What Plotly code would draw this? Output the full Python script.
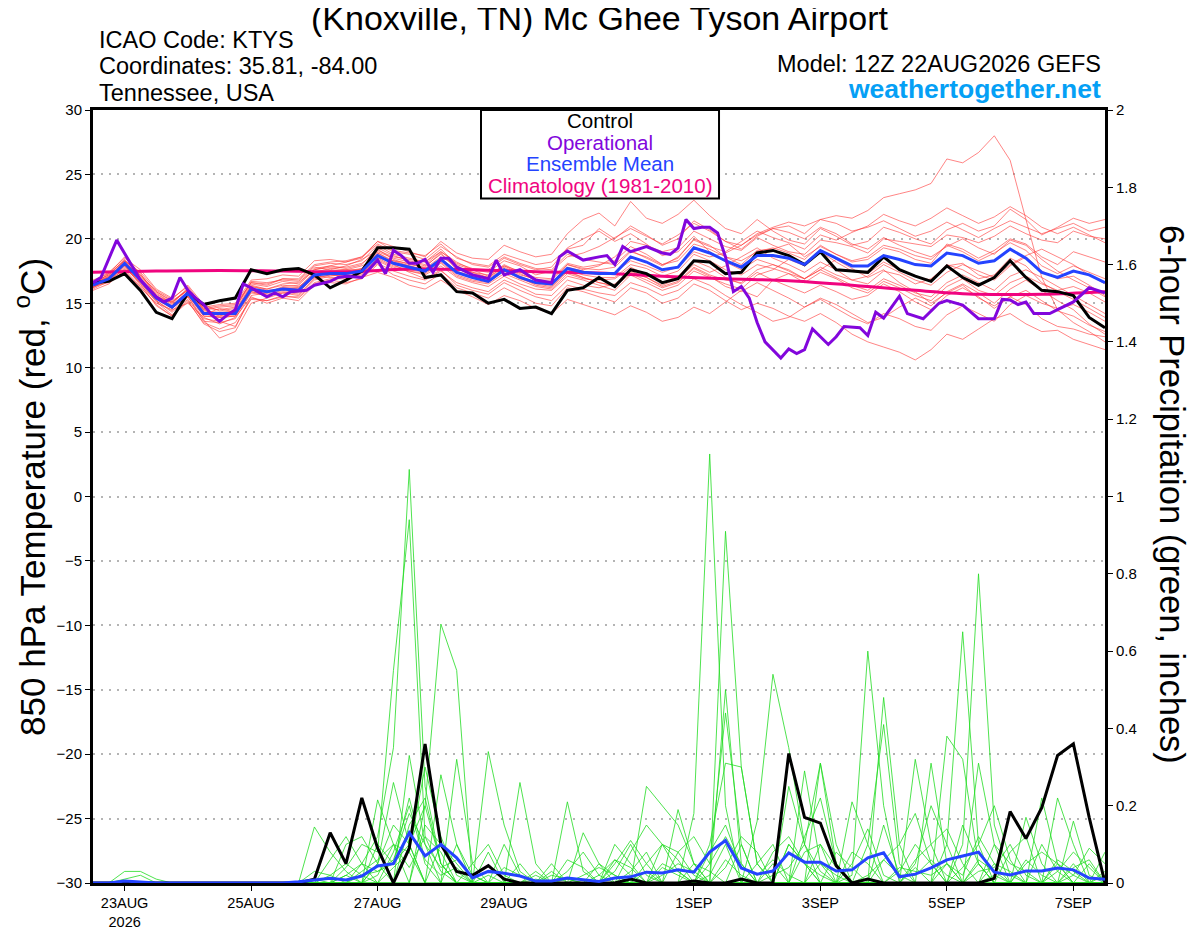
import plotly.graph_objects as go
import pandas as pd

# GEFS 12Z 22AUG2026, 6-hourly steps out to 384h (65 points)
run_start = "2026-08-22 12:00"
n_steps = 65

# 850 hPa temperature, control run (deg C)
control_temp = [16.6, 16.7, 17.3, 16.0, 14.3, 13.8, 15.8, 14.9, 15.2, 15.4, 17.6, 17.3, 17.6,
                17.7, 17.2, 16.2, 16.8, 17.5, 19.3, 19.3, 19.2, 17.0, 17.2, 15.9, 15.8, 15.0,
                15.3, 14.6, 14.7, 14.2, 16.0, 16.2, 17.0, 16.3, 17.6, 17.3, 16.6, 16.9, 18.3,
                18.2, 17.3, 17.4, 18.9, 19.1, 18.7, 18.0, 19.0, 17.6, 17.5, 17.4, 18.6, 17.6,
                17.1, 16.7, 17.9, 17.0, 16.4, 17.0, 18.3, 17.0, 16.0, 15.9, 15.6, 13.9, 13.1]

# ensemble mean temperature
mean_temp = [16.4, 16.9, 18.1, 16.8, 15.4, 14.7, 15.8, 14.2, 14.2, 14.2, 16.1, 15.9, 16.1,
             16.0, 17.2, 17.3, 17.3, 17.5, 18.7, 18.1, 17.8, 17.5, 18.4, 17.4, 17.0, 16.7,
             17.6, 17.0, 16.6, 16.5, 17.7, 17.4, 17.3, 17.3, 18.6, 18.2, 17.6, 17.8, 19.3,
             18.9, 18.3, 17.8, 18.7, 18.7, 18.5, 18.0, 19.1, 18.5, 17.9, 17.9, 18.7, 18.4,
             18.0, 17.9, 18.9, 18.7, 18.1, 18.3, 19.2, 18.5, 17.4, 17.0, 17.5, 17.2, 16.6]

# operational run (3-hourly where visible)
op_hours = [0, 3, 9, 12, 18, 24, 27, 30, 33, 36, 39, 42, 45, 48, 51, 54, 57, 60, 66, 69,
            72, 75, 81, 84, 90, 93, 96, 102, 108, 111, 114, 117, 120, 123, 126, 129, 132, 135, 138, 144,
            150, 153, 156, 162, 168, 174, 177, 180, 186, 192, 195, 198, 201, 204, 210, 216, 219, 222, 225, 228,
            231, 234, 237, 240, 243, 246, 249, 252, 255, 261, 264, 267, 270, 273, 279, 282, 285, 291, 294, 297,
            300, 306, 309, 315, 321, 324, 330, 336, 342, 345, 348, 351, 354, 357, 363, 366, 372, 378, 384]
op_temp = [16.6, 17.0, 19.9, 18.9, 16.8, 15.5, 15.1, 15.4, 17.0, 16.0, 15.4, 14.9, 14.1, 13.6, 14.1, 14.5, 16.5, 16.2, 15.5, 15.8,
           15.5, 15.9, 16.0, 16.4, 16.7, 17.0, 17.1, 17.0, 18.35, 17.3, 19.1, 18.7, 18.1, 18.1, 18.4, 17.4, 18.5, 18.5, 17.8, 17.2,
           16.9, 18.35, 17.2, 17.6, 16.8, 16.6, 18.6, 19.05, 18.35, 18.6, 18.7, 18.0, 19.4, 19.0, 19.4, 18.9, 18.8, 19.3, 21.5, 20.8,
           20.9, 20.9, 20.45, 18.6, 15.9, 16.3, 15.4, 13.5, 12.0, 10.75, 11.45, 11.1, 11.4, 13.0, 11.8, 12.4, 13.2, 13.1, 12.5, 14.3,
           13.85, 15.55, 14.2, 13.8, 15.0, 15.2, 14.85, 13.8, 13.8, 15.3, 15.25, 14.9, 15.1, 14.2, 14.2, 14.5, 15.1, 16.2, 15.8]

# climatology (1981-2010), daily
clim_temp = [17.4, 17.5, 17.55, 17.5, 17.45, 17.65, 17.6, 17.45, 17.35, 17.1, 16.9, 16.75, 16.4,
             16.0, 15.7, 15.7, 15.9]

# ensemble member temperatures
member_temp = [
    [16.6, 17.2, 18.4, 17.1, 15.8, 15.0, 16.2, 14.6, 14.8, 14.9, 16.6, 16.4, 16.9,
     16.8, 17.9, 18.1, 18.0, 18.3, 19.5, 18.8, 18.5, 18.2, 19.2, 18.0, 17.6, 17.4,
     18.3, 17.9, 17.2, 17.5, 18.6, 18.9, 19.4, 20.1, 20.8, 20.2, 19.6, 20.3, 21.2,
     20.6, 19.8, 19.5, 20.4, 20.9, 21.3, 21.0, 21.5, 21.8, 21.6, 22.2, 23.2, 23.5,
     23.8, 24.3, 26.2, 25.9, 26.7, 28.0, 26.1, 21.5, 17.0, 14.5, 13.5, 12.8, 12.0],
    [16.2, 16.8, 17.8, 16.6, 15.1, 14.1, 15.2, 13.4, 12.8, 13.1, 15.6, 15.8, 16.3,
     16.4, 17.6, 17.9, 18.2, 18.6, 19.8, 19.4, 19.0, 18.6, 19.8, 18.9, 18.5, 18.4,
     19.5, 19.0, 18.6, 18.8, 20.4, 21.5, 22.0, 21.0, 22.9, 21.6, 21.2, 21.9, 23.0,
     21.8, 20.8, 20.4, 21.5, 20.6, 19.9, 19.6, 20.8, 20.2, 19.5, 19.8, 20.9, 20.5,
     20.0, 19.6, 20.7, 21.2, 20.6, 21.0, 22.3, 21.5, 20.3, 20.9, 21.6, 21.2, 21.5],
    [16.5, 17.1, 18.0, 16.5, 14.8, 14.0, 15.5, 13.8, 13.6, 13.2, 15.4, 15.2, 15.6,
     15.4, 16.5, 16.8, 16.6, 16.9, 18.0, 17.2, 16.8, 16.5, 17.3, 16.2, 15.8, 15.4,
     16.2, 15.6, 15.0, 14.8, 16.2, 15.9, 15.5, 15.1, 16.2, 15.8, 15.0, 15.4, 16.5,
     16.0, 15.2, 14.5, 15.0, 14.6, 14.0, 13.6, 14.2, 13.5, 12.6, 12.0, 11.6, 11.2,
     10.6, 11.4, 12.6, 12.2, 13.0, 13.8, 14.2, 13.4, 12.8, 12.9, 12.2, 11.8, 11.4],
    [16.3, 16.6, 17.5, 16.2, 15.0, 14.5, 15.0, 13.9, 13.4, 13.9, 15.5, 15.0, 15.4,
     15.2, 16.4, 16.6, 16.5, 17.0, 17.4, 17.0, 16.4, 16.1, 16.8, 16.0, 15.5, 14.9,
     15.6, 15.2, 14.6, 14.2, 15.3, 14.9, 14.5, 14.1, 14.8, 14.3, 13.6, 13.9, 14.7,
     14.2, 15.1, 16.0, 15.5, 16.8, 17.3, 16.9, 17.6, 18.4, 17.7, 17.0, 17.6, 16.6,
     15.9, 15.0, 15.8, 16.4, 15.4, 14.8, 15.5, 14.9, 13.8, 13.2, 13.0, 12.6, 12.4],
    [16.4, 17.0, 18.3, 17.4, 16.0, 15.3, 16.4, 14.9, 14.4, 14.6, 16.7, 16.6, 16.8,
     16.7, 17.8, 17.6, 17.9, 18.4, 19.1, 18.6, 18.4, 18.2, 19.0, 18.2, 17.6, 17.1,
     18.0, 17.4, 17.0, 16.9, 18.1, 17.8, 18.0, 18.3, 19.4, 18.8, 18.0, 18.5, 20.0,
     19.5, 18.6, 18.0, 19.1, 19.2, 19.6, 18.6, 19.4, 18.8, 18.2, 18.4, 19.3, 19.0,
     18.4, 18.1, 19.6, 19.2, 18.5, 19.1, 20.0, 19.6, 18.6, 18.0, 19.0, 18.6, 18.2],
    [16.5, 17.3, 18.6, 17.3, 15.6, 14.9, 15.9, 14.1, 14.6, 14.3, 16.3, 16.0, 16.1,
     16.2, 17.4, 17.7, 17.6, 17.6, 19.2, 18.4, 18.0, 17.8, 18.9, 17.6, 17.4, 17.0,
     17.8, 17.2, 16.9, 16.6, 17.4, 17.0, 16.6, 16.4, 17.5, 17.0, 16.4, 16.9, 18.0,
     17.4, 17.9, 18.6, 19.3, 18.5, 18.0, 17.4, 18.2, 17.6, 16.8, 16.5, 17.5, 17.2,
     16.5, 16.9, 17.9, 18.1, 17.2, 16.8, 17.9, 18.6, 17.5, 16.9, 17.1, 16.4, 15.6],
    [16.0, 16.5, 17.6, 16.9, 15.5, 15.1, 16.0, 14.5, 14.0, 14.5, 16.4, 16.1, 16.4,
     16.3, 17.0, 17.5, 17.6, 17.9, 18.5, 18.3, 18.1, 17.7, 18.6, 17.9, 17.4, 17.2,
     17.9, 17.5, 16.7, 16.5, 18.0, 17.6, 17.9, 18.6, 19.8, 19.5, 19.0, 19.3, 20.6,
     20.0, 19.4, 19.1, 20.1, 19.5, 19.0, 18.8, 19.9, 19.7, 19.4, 18.9, 20.0, 19.8,
     19.6, 19.4, 20.3, 20.1, 19.7, 20.2, 21.0, 20.4, 19.9, 19.7, 20.6, 20.2, 20.0],
    [16.6, 17.0, 17.9, 16.4, 15.2, 14.4, 15.5, 13.6, 13.5, 13.8, 15.8, 15.6, 15.8,
     15.9, 17.0, 17.2, 17.1, 17.3, 18.3, 17.7, 17.5, 17.2, 17.9, 17.0, 16.6, 16.3,
     17.1, 16.5, 16.1, 16.0, 17.1, 16.8, 16.4, 16.0, 17.2, 16.6, 16.0, 16.4, 17.5,
     17.0, 16.5, 16.1, 17.2, 17.6, 18.4, 17.9, 19.0, 18.2, 17.5, 17.3, 18.2, 17.6,
     17.1, 16.8, 18.0, 17.6, 16.9, 17.2, 18.5, 17.9, 16.6, 15.9, 15.3, 14.6, 13.9],
    [16.3, 16.9, 18.0, 16.7, 15.3, 14.6, 15.6, 14.0, 13.9, 14.0, 15.9, 15.7, 16.0,
     15.8, 17.1, 17.0, 17.0, 17.2, 18.5, 17.9, 17.6, 17.4, 18.2, 17.2, 16.8, 16.6,
     17.5, 16.9, 16.5, 16.3, 17.6, 17.2, 17.0, 17.0, 18.0, 17.7, 17.1, 17.5, 18.8,
     18.3, 17.6, 17.2, 18.0, 17.7, 17.3, 16.6, 17.4, 16.9, 16.2, 15.8, 16.7, 16.2,
     15.6, 15.2, 16.3, 16.9, 16.0, 15.6, 16.6, 17.1, 16.5, 16.0, 16.3, 15.8, 15.1],
    [16.7, 17.4, 18.5, 17.6, 16.1, 15.4, 16.3, 14.7, 14.9, 15.0, 16.8, 16.9, 17.2,
     17.1, 18.3, 18.4, 18.2, 18.5, 19.8, 19.1, 18.9, 18.7, 19.6, 18.5, 18.1, 17.9,
     18.8, 18.4, 18.0, 18.2, 19.2, 19.5, 20.8, 20.0, 21.0, 20.3, 19.5, 20.0, 21.4,
     20.7, 19.8, 19.2, 20.2, 20.8, 20.5, 20.0, 20.9, 20.4, 19.6, 19.2, 20.1, 19.5,
     19.0, 18.6, 19.4, 20.0, 19.3, 18.8, 19.9, 19.5, 18.4, 17.5, 16.8, 16.2, 15.5],
    [16.1, 16.7, 17.7, 16.6, 15.2, 14.3, 15.3, 13.7, 12.3, 12.8, 15.0, 15.4, 15.8,
     15.6, 16.8, 17.1, 17.3, 17.6, 18.8, 18.0, 17.4, 16.9, 17.6, 16.4, 16.0, 15.7,
     16.6, 16.0, 15.5, 15.2, 16.4, 16.1, 15.8, 15.6, 16.6, 16.2, 15.6, 16.0, 16.9,
     16.4, 15.6, 14.9, 14.3, 13.6, 13.9, 14.7, 15.4, 14.9, 14.2, 13.5, 13.9, 14.7,
     15.4, 14.8, 15.9, 16.5, 15.8, 15.0, 16.1, 16.8, 16.0, 15.2, 14.5, 13.4, 12.6],
    [16.5, 17.1, 18.2, 17.0, 15.7, 15.0, 16.1, 14.4, 14.3, 14.4, 16.3, 16.1, 16.5,
     16.6, 17.6, 17.8, 17.8, 18.1, 19.0, 18.5, 18.2, 17.9, 18.8, 17.8, 17.3, 17.0,
     17.9, 17.3, 16.8, 16.8, 18.0, 17.7, 17.6, 17.8, 19.0, 18.6, 18.0, 18.3, 19.6,
     19.2, 18.6, 18.3, 19.0, 19.3, 18.9, 18.4, 19.5, 18.8, 18.3, 18.6, 19.5, 19.2,
     18.7, 18.4, 19.5, 19.0, 18.3, 18.9, 19.7, 19.1, 17.9, 17.3, 17.9, 17.4, 16.9],
    [16.4, 16.8, 17.9, 16.8, 15.5, 14.8, 15.9, 14.3, 14.1, 14.2, 16.0, 15.8, 16.2,
     16.1, 17.3, 17.4, 17.5, 17.7, 18.9, 18.2, 17.9, 17.6, 18.5, 17.5, 17.1, 16.9,
     17.7, 17.1, 16.6, 16.4, 17.8, 17.5, 17.2, 17.4, 18.3, 17.9, 17.4, 17.8, 19.0,
     18.6, 18.9, 19.5, 20.3, 20.8, 21.0, 20.4, 21.5, 21.2, 20.6, 20.9, 21.4, 20.8,
     20.2, 20.6, 21.3, 20.7, 20.1, 20.8, 21.4, 20.9, 20.4, 20.8, 21.2, 20.6, 20.9],
    [16.2, 16.9, 18.0, 16.9, 15.4, 14.6, 15.6, 14.2, 13.9, 14.0, 15.9, 15.6, 15.9,
     15.7, 16.9, 17.2, 17.2, 17.4, 18.4, 17.8, 17.5, 17.3, 18.1, 17.1, 16.7, 16.5,
     17.3, 16.8, 16.3, 16.1, 17.3, 16.9, 16.8, 16.9, 17.8, 17.2, 16.6, 17.1, 18.3,
     17.8, 17.0, 16.5, 17.4, 16.8, 16.3, 15.8, 16.4, 15.9, 15.3, 15.6, 16.5, 15.9,
     15.1, 14.5, 15.6, 16.2, 15.5, 14.6, 15.5, 16.0, 15.2, 14.4, 14.0, 13.3, 12.8],
    [16.8, 17.3, 18.3, 17.2, 15.9, 15.2, 16.0, 14.6, 14.5, 14.7, 16.5, 16.3, 16.7,
     16.5, 17.7, 17.9, 17.7, 18.0, 19.3, 18.7, 18.3, 18.0, 19.0, 18.1, 17.7, 17.6,
     18.5, 18.0, 17.6, 17.8, 19.3, 20.0, 20.6, 19.8, 20.4, 19.6, 18.7, 19.0, 20.2,
     19.0, 18.2, 17.6, 18.4, 18.0, 17.5, 16.9, 17.8, 17.2, 16.8, 17.1, 18.0, 17.4,
     16.8, 16.4, 17.4, 18.0, 17.5, 17.0, 18.0, 18.7, 19.2, 18.6, 18.0, 17.2, 16.5],
    [16.3, 16.8, 17.6, 16.3, 14.9, 14.0, 15.1, 13.5, 13.0, 13.5, 15.3, 15.2, 15.5,
     15.5, 16.6, 16.9, 16.9, 17.1, 18.1, 17.5, 17.1, 16.8, 17.5, 16.6, 16.2, 15.9,
     16.8, 16.3, 15.7, 15.6, 16.8, 16.4, 16.2, 16.5, 17.4, 17.0, 16.3, 16.7, 17.8,
     17.2, 16.8, 16.6, 17.6, 18.0, 17.6, 16.9, 17.6, 17.0, 16.4, 16.0, 16.9, 16.4,
     15.8, 15.5, 16.6, 17.2, 16.6, 16.0, 17.1, 17.6, 17.0, 16.3, 15.6, 14.9, 14.2],
    [16.4, 17.0, 18.1, 17.2, 15.9, 15.1, 16.1, 14.5, 14.7, 14.8, 16.6, 16.5, 16.9,
     16.9, 18.0, 18.2, 18.3, 18.6, 19.6, 19.0, 18.8, 18.4, 19.4, 18.6, 18.0, 17.8,
     18.6, 18.1, 17.7, 17.6, 18.8, 18.4, 18.2, 18.0, 19.1, 18.5, 17.9, 18.6, 19.9,
     19.4, 19.0, 19.8, 20.6, 20.1, 19.7, 19.2, 20.3, 19.9, 20.5, 21.0, 21.9, 21.4,
     21.0, 21.6, 22.4, 21.8, 21.2, 21.7, 22.5, 21.8, 20.9, 20.4, 20.9, 20.3, 19.7],
    [16.6, 17.2, 18.3, 16.9, 15.4, 14.6, 15.7, 14.0, 14.0, 14.1, 16.0, 15.9, 16.2,
     16.2, 17.4, 17.5, 17.3, 17.7, 18.9, 18.3, 17.9, 17.6, 18.4, 17.4, 17.0, 16.7,
     17.6, 17.0, 16.4, 16.2, 17.5, 17.0, 16.6, 16.3, 17.3, 16.8, 16.2, 16.6, 17.7,
     17.1, 16.3, 15.9, 16.6, 16.0, 15.4, 14.7, 15.3, 14.6, 13.9, 13.4, 14.2, 13.8,
     13.2, 12.9, 14.1, 14.8, 14.2, 13.6, 14.9, 15.6, 15.0, 14.6, 14.9, 14.3, 13.6],
]

# 6-hour precipitation (inches), control and ensemble mean
control_precip = [0, 0, 0, 0, 0, 0, 0, 0, 0, 0, 0, 0, 0,
                  0, 0.01, 0.13, 0.05, 0.22, 0.09, 0, 0.09, 0.36, 0.10, 0.03, 0.02, 0.045,
                  0.01, 0, 0, 0, 0, 0, 0, 0, 0.01, 0, 0, 0, 0.005,
                  0, 0, 0.01, 0, 0, 0.335, 0.17, 0.155, 0.045, 0, 0.01, 0, 0,
                  0, 0, 0, 0, 0, 0.012, 0.185, 0.115, 0.195, 0.33, 0.36, 0.17, 0]

mean_precip = [0, 0, 0.005, 0.002, 0, 0, 0, 0, 0, 0, 0, 0, 0,
               0.003, 0.008, 0.012, 0.008, 0.018, 0.044, 0.05, 0.13, 0.07, 0.10, 0.065, 0.013, 0.03,
               0.025, 0.018, 0.005, 0.005, 0.013, 0.008, 0.004, 0.013, 0.016, 0.028, 0.026, 0.034, 0.028,
               0.08, 0.11, 0.039, 0.023, 0.031, 0.078, 0.054, 0.054, 0.031, 0.034, 0.065, 0.078, 0.016,
               0.023, 0.039, 0.06, 0.07, 0.08, 0.028, 0.021, 0.031, 0.031, 0.039, 0.034, 0.013, 0.01]

member_precip = [
    [0, 0, 0.03, 0.03, 0.01, 0, 0, 0, 0, 0, 0, 0, 0,
     0, 0, 0, 0, 0.05, 0.12, 0.35, 1.07, 0.25, 0.05, 0, 0, 0.02,
     0, 0, 0, 0, 0.01, 0, 0, 0, 0, 0.05, 0.1, 0.06, 0,
     0, 0, 0, 0, 0, 0.1, 0.05, 0, 0, 0, 0, 0, 0,
     0.04, 0, 0, 0, 0, 0.02, 0, 0, 0, 0.05, 0.02, 0, 0],
    [0, 0, 0, 0, 0, 0, 0, 0, 0, 0, 0, 0, 0,
     0, 0.01, 0, 0.04, 0.1, 0.08, 0.55, 0.94, 0.12, 0.03, 0, 0, 0,
     0, 0, 0, 0, 0, 0, 0, 0.03, 0.1, 0.02, 0, 0, 0,
     0.05, 0.44, 0.1, 0, 0, 0, 0, 0, 0, 0, 0.1, 0.41, 0.05,
     0, 0, 0, 0, 0.05, 0, 0, 0, 0.22, 0.05, 0, 0, 0],
    [0, 0, 0, 0, 0, 0, 0, 0, 0, 0, 0, 0, 0,
     0, 0, 0, 0, 0, 0, 0, 0, 0.2, 0.67, 0.55, 0, 0,
     0, 0.05, 0, 0, 0, 0.13, 0.05, 0, 0, 0, 0, 0, 0.18,
     1.11, 0.2, 0, 0, 0.05, 0, 0, 0.31, 0.1, 0, 0, 0, 0,
     0, 0, 0.1, 0.65, 0.1, 0, 0, 0, 0, 0, 0.16, 0.02, 0],
    [0, 0, 0, 0, 0, 0, 0, 0, 0, 0, 0, 0, 0,
     0, 0.145, 0.08, 0.03, 0, 0, 0, 0.33, 0.1, 0, 0, 0, 0.34,
     0.15, 0.03, 0, 0, 0, 0, 0, 0.1, 0.05, 0, 0, 0, 0,
     0, 0.91, 0.3, 0.05, 0, 0, 0, 0, 0, 0.02, 0.6, 0.2, 0,
     0, 0, 0, 0.1, 0.8, 0.15, 0.02, 0, 0, 0, 0, 0, 0.08],
    [0, 0, 0, 0, 0, 0, 0, 0, 0, 0, 0, 0, 0,
     0, 0, 0, 0, 0, 0.215, 0.1, 0, 0, 0.28, 0.1, 0, 0,
     0, 0.26, 0.05, 0, 0.21, 0.03, 0, 0, 0, 0, 0, 0.19, 0.05,
     0, 0, 0, 0.16, 0.54, 0.35, 0.1, 0, 0, 0, 0, 0, 0,
     0.32, 0.1, 0, 0, 0, 0, 0, 0.17, 0.05, 0, 0, 0, 0],
    [0, 0, 0, 0, 0, 0, 0, 0, 0, 0, 0, 0, 0,
     0, 0, 0, 0.02, 0, 0.05, 0.26, 0.1, 0, 0, 0.32, 0.05, 0,
     0, 0, 0, 0.05, 0, 0, 0, 0, 0, 0.25, 0.2, 0.15, 0.05,
     0, 0.5, 0.05, 0, 0, 0, 0.29, 0.05, 0, 0, 0, 0.48, 0.1,
     0, 0, 0.38, 0.32, 0.05, 0, 0, 0, 0, 0.22, 0.1, 0, 0],
    [0, 0, 0, 0, 0, 0, 0, 0, 0, 0, 0, 0, 0,
     0, 0, 0.06, 0.12, 0.05, 0, 0, 0.15, 0.22, 0.05, 0, 0, 0,
     0.1, 0.02, 0, 0, 0, 0, 0.05, 0.02, 0, 0, 0, 0, 0,
     0.1, 0.31, 0.3, 0.05, 0, 0, 0, 0.05, 0.02, 0, 0, 0, 0,
     0, 0.31, 0.05, 0, 0, 0, 0.08, 0.12, 0, 0, 0, 0, 0],
    [0, 0, 0, 0, 0, 0, 0, 0, 0, 0, 0, 0, 0,
     0, 0, 0, 0, 0, 0.05, 0.15, 0.1, 0.2, 0.05, 0, 0, 0.08,
     0, 0, 0, 0, 0, 0, 0, 0, 0.03, 0.08, 0, 0, 0,
     0, 0, 0, 0, 0, 0.25, 0.1, 0.31, 0.05, 0, 0, 0, 0.03,
     0.1, 0.05, 0, 0, 0.31, 0.1, 0, 0, 0, 0, 0, 0.05, 0],
    [0, 0, 0, 0, 0, 0, 0, 0, 0, 0, 0, 0, 0,
     0, 0, 0, 0.1, 0.12, 0.05, 0, 0, 0.15, 0.1, 0.03, 0, 0,
     0, 0, 0.03, 0, 0.03, 0.08, 0.02, 0, 0, 0, 0.05, 0.03, 0,
     0, 0, 0.1, 0, 0, 0, 0, 0, 0, 0.21, 0.1, 0, 0,
     0, 0, 0, 0.15, 0.05, 0, 0, 0, 0.1, 0.03, 0, 0, 0],
    [0, 0, 0, 0, 0, 0, 0, 0, 0, 0, 0, 0, 0,
     0, 0, 0, 0, 0.02, 0.03, 0.05, 0.1, 0, 0, 0, 0.05, 0.1,
     0.02, 0, 0, 0, 0, 0, 0, 0.05, 0.11, 0.05, 0, 0, 0,
     0.02, 0.1, 0, 0, 0, 0.1, 0.05, 0.02, 0, 0, 0, 0, 0,
     0.05, 0.2, 0.1, 0, 0, 0.05, 0.03, 0, 0, 0, 0, 0, 0.02],
    [0, 0, 0, 0, 0, 0, 0, 0, 0, 0, 0, 0, 0,
     0, 0, 0, 0, 0, 0, 0.08, 0.2, 0.05, 0, 0.1, 0.02, 0,
     0, 0, 0, 0, 0, 0, 0, 0, 0, 0, 0.02, 0.05, 0.03,
     0, 0, 0, 0.05, 0.1, 0, 0, 0, 0.08, 0.04, 0, 0.15, 0.02,
     0, 0, 0.05, 0, 0, 0, 0, 0.05, 0.08, 0.05, 0, 0, 0],
    [0, 0, 0, 0, 0, 0, 0, 0, 0, 0, 0, 0, 0,
     0, 0.03, 0.02, 0, 0, 0.02, 0.1, 0.08, 0, 0.1, 0.05, 0, 0,
     0, 0, 0, 0.02, 0.01, 0, 0, 0, 0, 0, 0, 0, 0.05,
     0.03, 0, 0, 0, 0, 0, 0.08, 0.1, 0, 0, 0, 0, 0,
     0, 0, 0, 0, 0.06, 0.03, 0, 0, 0, 0, 0.04, 0.06, 0],
    [0, 0, 0, 0, 0, 0, 0, 0, 0, 0, 0, 0, 0,
     0, 0, 0, 0, 0.03, 0.06, 0.1, 0.04, 0.12, 0.08, 0, 0, 0,
     0, 0, 0, 0, 0.06, 0.04, 0, 0, 0.08, 0.15, 0.1, 0.03, 0,
     0, 0.04, 0.12, 0.08, 0, 0, 0.12, 0.22, 0.05, 0, 0, 0.06, 0.1,
     0.18, 0.05, 0, 0.04, 0.1, 0.2, 0.06, 0, 0, 0.03, 0.08, 0.04, 0],
    [0, 0, 0.01, 0.02, 0, 0, 0, 0, 0, 0, 0, 0, 0,
     0, 0, 0, 0.02, 0.05, 0.03, 0.06, 0.18, 0.1, 0.04, 0.06, 0.02, 0,
     0.04, 0.02, 0, 0.03, 0, 0, 0, 0.06, 0.02, 0, 0.1, 0.08, 0.02,
     0, 0.06, 0.02, 0, 0.08, 0.12, 0.05, 0, 0, 0.05, 0.14, 0.02, 0,
     0.06, 0.1, 0.14, 0.05, 0, 0.1, 0.05, 0.03, 0, 0, 0.02, 0.09, 0.05],
    [0, 0, 0, 0, 0, 0, 0, 0, 0, 0, 0, 0, 0,
     0, 0, 0.02, 0.05, 0.02, 0, 0.04, 0.08, 0.3, 0.12, 0.02, 0, 0,
     0, 0, 0.01, 0, 0, 0.02, 0.04, 0.02, 0, 0.03, 0, 0.08, 0.12,
     0.05, 0.12, 0.05, 0, 0.02, 0.04, 0.1, 0.03, 0, 0.08, 0.05, 0, 0.04,
     0.03, 0.02, 0.05, 0.02, 0.12, 0.05, 0, 0.06, 0.02, 0, 0.05, 0, 0.03],
    [0, 0, 0, 0, 0, 0, 0, 0, 0, 0, 0, 0, 0,
     0, 0, 0, 0, 0, 0.1, 0.05, 0.22, 0.06, 0.02, 0.04, 0, 0,
     0, 0, 0.02, 0, 0, 0, 0.02, 0.06, 0.04, 0, 0.04, 0.02, 0,
     0.08, 0.15, 0.04, 0.02, 0.06, 0.02, 0, 0.1, 0.04, 0, 0.02, 0.06, 0.02,
     0.02, 0.06, 0.02, 0, 0.03, 0.04, 0.1, 0.02, 0, 0.06, 0.03, 0, 0],
]

date_ticks = ["2026-08-23", "2026-08-25", "2026-08-27", "2026-08-29",
              "2026-09-01", "2026-09-03", "2026-09-05", "2026-09-07"]
date_labels = ["23AUG<br>2026", "25AUG", "27AUG", "29AUG", "1SEP", "3SEP", "5SEP", "7SEP"]

for s in member_temp + member_precip + [control_temp, mean_temp, control_precip, mean_precip]:
    assert len(s) == n_steps, len(s)
assert len(op_hours) == len(op_temp)

times = pd.date_range(run_start, periods=n_steps, freq="6h")
op_times = pd.Timestamp(run_start) + pd.to_timedelta(op_hours, unit="h")
clim_times = pd.date_range(run_start, periods=len(clim_temp), freq="24h")

FONT = "Liberation Sans, Arial, Helvetica, sans-serif"
RED = "rgba(255,50,50,0.75)"
GREEN = "#22dc22"
BLACK = "#000000"
BLUE = "#2443ff"
PURPLE = "#8206dc"
PINK = "#f0047f"

fig = go.Figure()

for m in member_temp:
    fig.add_trace(go.Scatter(x=times, y=m, mode="lines", line=dict(color=RED, width=0.8),
                             hoverinfo="skip"))
for m in member_precip:
    fig.add_trace(go.Scatter(x=times, y=m, mode="lines", line=dict(color=GREEN, width=0.8),
                             yaxis="y2", hoverinfo="skip"))

fig.add_trace(go.Scatter(x=clim_times, y=clim_temp, mode="lines",
                         line=dict(color=PINK, width=3, shape="spline"), name="Climatology"))
fig.add_trace(go.Scatter(x=times, y=control_temp, mode="lines", line=dict(color=BLACK, width=3),
                         name="Control"))
fig.add_trace(go.Scatter(x=times, y=mean_temp, mode="lines", line=dict(color=BLUE, width=3),
                         name="Ensemble Mean"))
fig.add_trace(go.Scatter(x=op_times, y=op_temp, mode="lines", line=dict(color=PURPLE, width=3),
                         name="Operational"))
fig.add_trace(go.Scatter(x=times, y=control_precip, mode="lines", line=dict(color=BLACK, width=3),
                         yaxis="y2", name="Control precip"))
fig.add_trace(go.Scatter(x=times, y=mean_precip, mode="lines", line=dict(color=BLUE, width=3),
                         yaxis="y2", name="Mean precip"))

# the page body adds an 8px offset, so the figure is 8px smaller than the window
fig.update_layout(
    width=1192, height=919,
    margin=dict(l=85, r=95, t=102, b=44),
    paper_bgcolor="white", plot_bgcolor="white",
    showlegend=False,
    font=dict(family=FONT, color="black"),
    xaxis=dict(type="date", range=[times[0], times[-1]], automargin=False,
               tickvals=pd.to_datetime(date_ticks), ticktext=date_labels,
               tickfont=dict(size=14.5), ticks="outside", ticklen=5, tickcolor="black",
               showgrid=False, showline=True, linewidth=3, linecolor="black", mirror=True,
               zeroline=False),
    yaxis=dict(range=[-30, 30], dtick=5, tickfont=dict(size=15), ticks="outside", ticklen=5,
               tickcolor="black", showgrid=True, gridcolor="#b4b4b4", griddash="2px,6px",
               gridwidth=1.5, automargin=False,
               zeroline=False, showline=True, linewidth=3, linecolor="black", mirror=True),
    yaxis2=dict(range=[0, 2], overlaying="y", side="right", dtick=0.2, automargin=False,
                tickfont=dict(size=15), ticks="outside", ticklen=5, tickcolor="black",
                showgrid=False, zeroline=False, showline=True, linewidth=3, linecolor="black"),
)

texts = [
    dict(text="(Knoxville, TN) Mc Ghee Tyson Airport", x=0.501, y=1.119, size=34,
         xanchor="center", color="black"),
    dict(text="ICAO Code: KTYS", x=0.004, y=1.0906, size=23.5, xanchor="left", color="black"),
    dict(text="Coordinates: 35.81, -84.00", x=0.004, y=1.0569, size=23.5, xanchor="left", color="black"),
    dict(text="Tennessee, USA", x=0.004, y=1.022, size=23.5, xanchor="left", color="black"),
    dict(text="Model: 12Z 22AUG2026 GEFS", x=0.998, y=1.0595, size=23.5, xanchor="right", color="black"),
    dict(text="<b>weathertogether.net</b>", x=0.998, y=1.0272, size=26.5, xanchor="right", color="#05a0f5"),
]
for t in texts:
    fig.add_annotation(text=t["text"], x=t["x"], y=t["y"], xref="paper", yref="paper",
                       xanchor=t["xanchor"], yanchor="middle", showarrow=False,
                       font=dict(size=t["size"], color=t["color"], family=FONT))

fig.add_annotation(text="850 hPa Temperature (red, <sup>o</sup>C)", textangle=-90,
                   x=-0.0623, y=0.4994, xref="paper", yref="paper", showarrow=False,
                   xanchor="center", yanchor="middle", font=dict(size=35, family=FONT))
fig.add_annotation(text="6-hour Precipitation (green, inches)", textangle=90,
                   x=1.0662, y=0.502, xref="paper", yref="paper", showarrow=False,
                   xanchor="center", yanchor="middle", font=dict(size=34.5, family=FONT))

# legend box
fig.add_shape(type="rect", xref="paper", yref="paper", x0=0.3834, x1=0.6186, y0=0.8855, y1=1.0,
              line=dict(color="black", width=2), fillcolor="white", layer="above")
legend_items = [("Control", BLACK, 0.9858), ("Operational", PURPLE, 0.9586),
                ("Ensemble Mean", BLUE, 0.9314), ("Climatology (1981-2010)", PINK, 0.9023)]
for label, col, ly in legend_items:
    fig.add_annotation(text=label, x=0.501, y=ly, xref="paper", yref="paper", showarrow=False,
                       xanchor="center", yanchor="middle", font=dict(size=20.5, color=col, family=FONT))

fig.write_html("out.html")
